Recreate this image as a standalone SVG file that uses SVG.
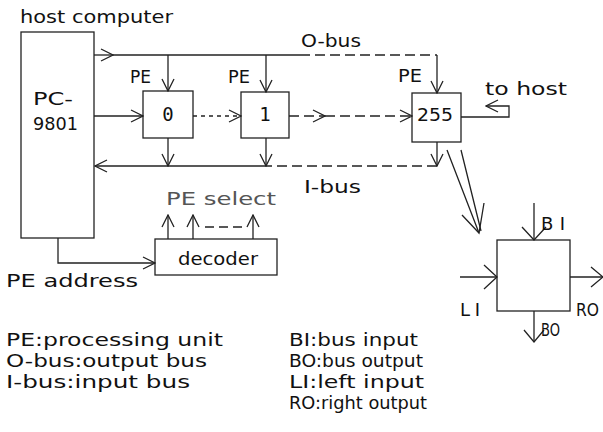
<svg xmlns="http://www.w3.org/2000/svg" width="603" height="432" viewBox="0 0 603 432">
<style>
  .bx{fill:none;stroke:#222;stroke-width:1.3}
  .ln{fill:none;stroke:#222;stroke-width:1.3}
  .ds{stroke-dasharray:10 5}
  .dt{stroke-dasharray:4 4}
  .sm{marker-end:url(#a)}
  .bg{marker-end:url(#b)}
  text{font-family:"DejaVu Sans","Liberation Sans",sans-serif;font-size:18px;fill:#111}
  .num{font-family:"DejaVu Sans Mono","Liberation Mono",monospace;font-size:19px}
  .lt{fill:#555}
</style>
<defs>
  <marker id="a" markerUnits="userSpaceOnUse" viewBox="0 0 14 14" refX="13" refY="7" markerWidth="14" markerHeight="14" orient="auto">
    <path d="M1,1 L13,7 L1,13" fill="none" stroke="#222" stroke-width="1.3"/>
  </marker>
  <marker id="b" markerUnits="userSpaceOnUse" viewBox="0 0 16 28" refX="15" refY="14" markerWidth="16" markerHeight="28" orient="auto">
    <path d="M2,2 L15,14 L2,26" fill="none" stroke="#222" stroke-width="1.3"/>
  </marker>
  <marker id="c" markerUnits="userSpaceOnUse" viewBox="0 0 14 22" refX="13" refY="11" markerWidth="14" markerHeight="22" orient="auto">
    <path d="M1,1 L13,11 L1,21" fill="none" stroke="#222" stroke-width="1.3"/>
  </marker>
</defs>
<rect width="603" height="432" fill="#fff"/>

<g id="connectors">
  <!-- O-bus -->
  <path class="ln sm" d="M94,55 H113"/>
  <path class="ln" d="M113,55 H300"/>
  <path class="ln ds" d="M300,55 H437"/>
  <path class="ln sm" d="M437,55 V93"/>
  <path class="ln sm" d="M168,55 V91"/>
  <path class="ln sm" d="M266,55 V92"/>
  <!-- left/right chain -->
  <path class="ln sm" d="M94,116 H143"/>
  <path class="ln dt sm" d="M193,116 H241"/>
  <path class="ln ds sm" d="M289,116 H325"/>
  <path class="ln ds sm" d="M325,116 H412"/>
  <!-- to host -->
  <path class="ln sm" d="M461,117 H509 V106 H486"/>
  <!-- to I-bus -->
  <path class="ln sm" d="M168,138 V166"/>
  <path class="ln sm" d="M266,138 V166"/>
  <path class="ln sm" d="M437,142 V166"/>
  <!-- I-bus -->
  <path class="ln ds" d="M437,166 H270"/>
  <path class="ln sm" d="M270,166 H95"/>
  <!-- PE address -->
  <path class="ln sm" d="M58,238 V263 H155"/>
  <!-- PE select -->
  <path class="ln sm" d="M168,239 V215"/>
  <path class="ln sm" d="M193,239 V215"/>
  <path class="ln sm" d="M253,239 V215"/>
  <path class="ln" d="M205,227 H245" stroke-dasharray="9 5"/>
  <!-- detail double arrow -->
  <path class="ln" d="M447,150 L479,233 M461,150 L481,231"/>
  <path class="ln" d="M462,215 L479,233 L484,203"/>
  <!-- PE ports -->
  <path class="ln bg" d="M534,203 V240"/>
  <path class="ln bg" d="M460,277 H497"/>
  <path class="ln c" d="M570,277 H603" marker-end="url(#c)"/>
  <path class="ln" d="M534,311 V342" marker-end="url(#c)"/>
</g>

<g id="host">
  <text x="20" y="23" textLength="153" lengthAdjust="spacingAndGlyphs">host computer</text>
  <rect class="bx" x="21" y="32" width="73" height="206"/>
  <text x="33" y="105" textLength="40" lengthAdjust="spacingAndGlyphs">PC-</text>
  <text x="33" y="130" textLength="45" lengthAdjust="spacingAndGlyphs">9801</text>
</g>

<g id="pe0">
  <text x="130" y="83" textLength="21" lengthAdjust="spacingAndGlyphs">PE</text>
  <rect class="bx" x="143" y="91" width="50" height="47"/>
  <text class="num" x="168" y="121" text-anchor="middle">0</text>
</g>

<g id="pe1">
  <text x="228" y="83" textLength="22" lengthAdjust="spacingAndGlyphs">PE</text>
  <rect class="bx" x="241" y="92" width="48" height="46"/>
  <text class="num" x="265" y="121" text-anchor="middle">1</text>
</g>

<g id="pe255">
  <text x="398" y="82" textLength="24" lengthAdjust="spacingAndGlyphs">PE</text>
  <rect class="bx" x="412" y="93" width="49" height="49"/>
  <text x="417" y="121" textLength="36" lengthAdjust="spacingAndGlyphs" font-size="20">255</text>
</g>

<g id="decoder">
  <text class="lt" x="166" y="205" textLength="110" lengthAdjust="spacingAndGlyphs">PE select</text>
  <rect class="bx" x="155" y="239" width="122" height="36"/>
  <text x="178" y="265" textLength="80" lengthAdjust="spacingAndGlyphs">decoder</text>
</g>

<g id="pe-detail">
  <rect class="bx" x="497" y="240" width="73" height="71"/>
  <text x="541" y="230" textLength="24" lengthAdjust="spacing">BI</text>
  <text x="460" y="316" textLength="20" lengthAdjust="spacing">LI</text>
  <text x="576" y="316" textLength="23" lengthAdjust="spacingAndGlyphs">RO</text>
  <text x="541" y="336" textLength="19" lengthAdjust="spacingAndGlyphs">BO</text>
</g>

<g id="labels">
  <text x="301" y="47" textLength="60" lengthAdjust="spacingAndGlyphs">O-bus</text>
  <text x="304" y="193" textLength="57" lengthAdjust="spacingAndGlyphs">I-bus</text>
  <text x="485" y="95" textLength="82" lengthAdjust="spacingAndGlyphs">to host</text>
  <text x="6" y="287" textLength="132" lengthAdjust="spacingAndGlyphs">PE address</text>
</g>

<g id="legend">
  <text x="6" y="346" textLength="217" lengthAdjust="spacingAndGlyphs">PE:processing unit</text>
  <text x="6" y="367" textLength="201" lengthAdjust="spacingAndGlyphs">O-bus:output bus</text>
  <text x="6" y="388" textLength="184" lengthAdjust="spacingAndGlyphs">I-bus:input bus</text>
  <text x="289" y="346" textLength="129" lengthAdjust="spacingAndGlyphs">BI:bus input</text>
  <text x="289" y="367" textLength="134" lengthAdjust="spacingAndGlyphs">BO:bus output</text>
  <text x="289" y="388" textLength="135" lengthAdjust="spacingAndGlyphs">LI:left input</text>
  <text x="289" y="409" textLength="138" lengthAdjust="spacingAndGlyphs">RO:right output</text>
</g>
</svg>
